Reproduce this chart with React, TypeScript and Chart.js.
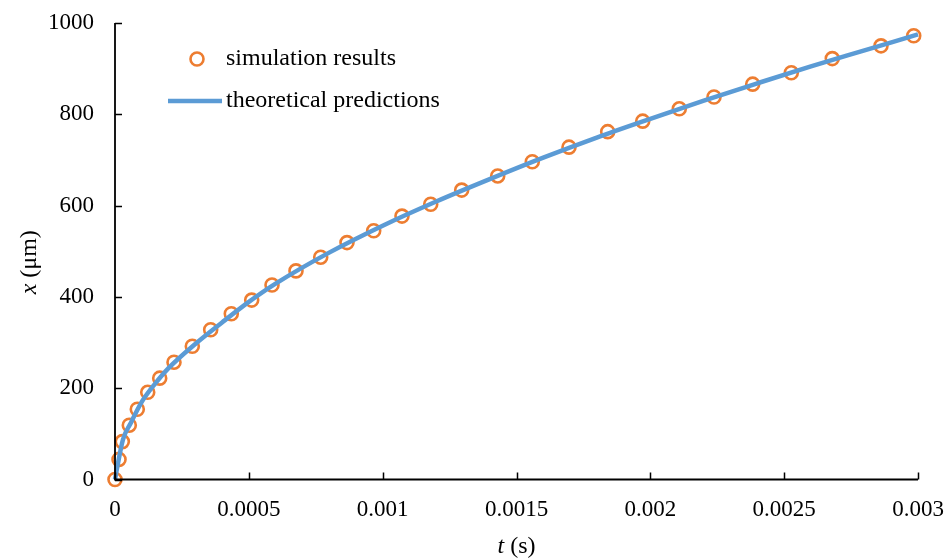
import React, { useEffect, useRef } from "react";
import { Chart, registerables } from "chart.js";

Chart.register(...registerables);

// Simulation output: time (s) and position (µm)
const simTime = [
  0, 0.000015, 0.0000273, 0.0000534, 0.0000833, 0.0001222, 0.000167, 0.0002204,
  0.0002888, 0.0003575, 0.0004345, 0.0005107, 0.0005866, 0.0006762, 0.0007685,
  0.0008668, 0.0009665, 0.0010722, 0.0011795, 0.0012953, 0.0014298, 0.001559,
  0.0016961, 0.0018407, 0.0019715, 0.0021082, 0.0022379, 0.0023824, 0.0025267,
  0.0026798, 0.0028618, 0.002984,
];
const simPosition = [
  0, 44, 83, 119, 154, 191, 222, 257, 292, 328, 363, 393, 426, 457, 487, 519,
  545, 577, 603, 634, 665, 696, 728, 762, 785, 812, 838, 866, 891, 922, 950, 972,
];

// Theoretical curve samples: time (s) and position (µm)
const theoryTime = [
  0, 0.00001, 0.00003, 0.00006, 0.0001, 0.00015, 0.0002, 0.0003, 0.0004, 0.0005,
  0.0006, 0.0008, 0.001, 0.0012, 0.0014, 0.0016, 0.0018, 0.002, 0.0022, 0.0024,
  0.0026, 0.0028, 0.003,
];
const theoryPosition = [
  0, 32, 88, 125, 170, 210, 244, 297, 344, 389, 429, 497, 556, 609, 658, 705,
  749, 790, 830, 868, 905, 940, 975,
];

const xTickValues = [0, 0.0005, 0.001, 0.0015, 0.002, 0.0025, 0.003];
const xTickLabels = ["0", "0.0005", "0.001", "0.0015", "0.002", "0.0025", "0.003"];
const yTickValues = [0, 200, 400, 600, 800, 1000];
const yTickLabels = ["0", "200", "400", "600", "800", "1000"];

const seriesNames = ["simulation results", "theoretical predictions"];

const ORANGE = "#ED7D31";
const BLUE = "#5B9BD5";
const SERIF = "'Liberation Serif', 'Times New Roman', serif";

// Axis lines, inward tick marks, axis titles and the in-plot legend
const decorations = {
  id: "decorations",
  afterDraw(chart: any) {
    const ctx = chart.ctx;
    const { left, right, top, bottom } = chart.chartArea;
    const xs = chart.scales.x;
    const ys = chart.scales.y;
    ctx.save();
    ctx.strokeStyle = "#000";
    ctx.lineWidth = 1.8;
    ctx.beginPath();
    ctx.moveTo(left, top);
    ctx.lineTo(left, bottom);
    ctx.lineTo(right, bottom);
    ctx.stroke();
    ctx.lineWidth = 1.5;
    ctx.beginPath();
    for (const v of yTickValues) {
      const py = Math.round(ys.getPixelForValue(v)) + 0.5;
      ctx.moveTo(left, py);
      ctx.lineTo(left + 7, py);
    }
    for (const v of xTickValues) {
      const px = Math.round(xs.getPixelForValue(v)) + 0.5;
      ctx.moveTo(px, bottom);
      ctx.lineTo(px, bottom - 7);
    }
    ctx.stroke();

    // x-axis title: italic t followed by " (s)"
    ctx.fillStyle = "#000";
    ctx.textBaseline = "middle";
    ctx.textAlign = "left";
    const italic = `italic 24px ${SERIF}`;
    const normal = `24px ${SERIF}`;
    ctx.font = italic;
    const wt = ctx.measureText("t").width;
    ctx.font = normal;
    const ws = ctx.measureText(" (s)").width;
    let x0 = (left + right) / 2 - (wt + ws) / 2;
    ctx.font = italic;
    ctx.fillText("t", x0, 547);
    ctx.font = normal;
    ctx.fillText(" (s)", x0 + wt, 547);

    // y-axis title: italic x followed by " (μm)", rotated
    ctx.save();
    ctx.translate(30, (top + bottom) / 2 + 11);
    ctx.rotate(-Math.PI / 2);
    ctx.font = italic;
    const wx = ctx.measureText("x").width;
    ctx.font = normal;
    const wu = ctx.measureText(" (μm)").width;
    x0 = -(wx + wu) / 2;
    ctx.font = italic;
    ctx.fillText("x", x0, 0);
    ctx.font = normal;
    ctx.fillText(" (μm)", x0 + wx, 0);
    ctx.restore();

    // legend
    ctx.font = `24px ${SERIF}`;
    ctx.strokeStyle = ORANGE;
    ctx.lineWidth = 2.6;
    ctx.beginPath();
    ctx.arc(197, 59, 6.5, 0, Math.PI * 2);
    ctx.stroke();
    ctx.fillText(seriesNames[0], 226, 59);
    ctx.strokeStyle = BLUE;
    ctx.lineWidth = 4.5;
    ctx.beginPath();
    ctx.moveTo(168, 101);
    ctx.lineTo(222, 101);
    ctx.stroke();
    ctx.fillText(seriesNames[1], 226, 101);
    ctx.restore();
  },
};

export default function App() {
  const canvasRef = useRef<HTMLCanvasElement | null>(null);

  useEffect(() => {
    const canvas = canvasRef.current;
    if (!canvas) return;
    const chart = new Chart(canvas, {
      type: "scatter",
      data: {
        datasets: [
          {
            label: seriesNames[0],
            data: simTime.map((t, i) => ({ x: t, y: simPosition[i] })),
            showLine: false,
            pointStyle: "circle",
            pointRadius: 6.5,
            pointBorderWidth: 2.6,
            pointBorderColor: ORANGE,
            pointBackgroundColor: "rgba(0,0,0,0)",
            order: 1,
            clip: false,
          },
          {
            label: seriesNames[1],
            data: theoryTime.map((t, i) => ({ x: t, y: theoryPosition[i] })),
            showLine: true,
            pointRadius: 0,
            borderColor: BLUE,
            borderWidth: 4.5,
            cubicInterpolationMode: "monotone",
            order: 0,
            clip: false,
          },
        ],
      },
      options: {
        animation: false,
        responsive: true,
        maintainAspectRatio: false,
        layout: { padding: { top: 23, right: 33, left: 0, bottom: 0 } },
        plugins: {
          legend: { display: false },
          tooltip: { enabled: false },
        },
        scales: {
          x: {
            type: "linear",
            min: 0,
            max: 0.003,
            afterBuildTicks: (scale: any) => {
              scale.ticks = xTickValues.map((v) => ({ value: v }));
            },
            afterFit: (scale: any) => {
              scale.height = 78.5;
              scale.paddingLeft = 0;
              scale.paddingRight = 0;
            },
            grid: { display: false },
            border: { display: false },
            ticks: {
              padding: 9,
              maxRotation: 0,
              autoSkip: false,
              color: "#000",
              font: { family: SERIF, size: 23 },
              callback: (_v: any, i: number) => xTickLabels[i],
            },
          },
          y: {
            type: "linear",
            min: 0,
            max: 1000,
            afterBuildTicks: (scale: any) => {
              scale.ticks = yTickValues.map((v) => ({ value: v }));
            },
            afterFit: (scale: any) => {
              scale.width = 115;
              scale.paddingTop = 0;
              scale.paddingBottom = 0;
            },
            grid: { display: false },
            border: { display: false },
            ticks: {
              padding: 13,
              autoSkip: false,
              color: "#000",
              font: { family: SERIF, size: 23 },
              callback: (_v: any, i: number) => yTickLabels[i],
            },
          },
        },
      },
      plugins: [decorations],
    });
    return () => chart.destroy();
  }, []);

  return (
    <div
      style={{
        position: "fixed",
        left: 0,
        top: 0,
        width: 951,
        height: 558,
        background: "#fff",
      }}
    >
      <canvas ref={canvasRef} />
    </div>
  );
}
